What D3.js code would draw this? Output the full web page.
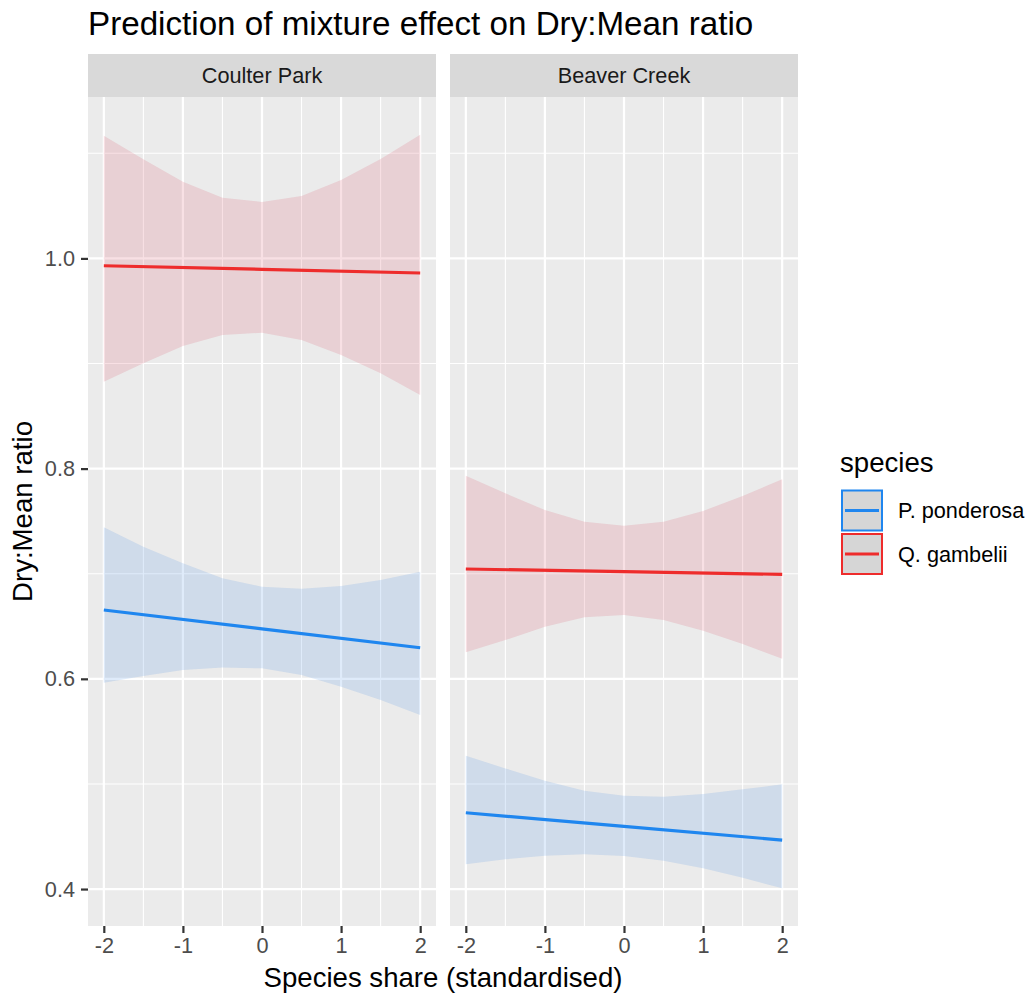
<!DOCTYPE html>
<html>
<head>
<meta charset="utf-8">
<script src="https://cdn.jsdelivr.net/npm/d3@7"></script>
<style>
  html, body { margin: 0; padding: 0; background: #ffffff; }
  svg { display: block; font-family: "Liberation Sans", Arial, Helvetica, sans-serif; }
</style>
</head>
<body>
<svg id="chart" width="1032" height="994"></svg>
<script>
// ---------------- data ----------------
const facets = ["Coulter Park", "Beaver Creek"];
const species = ["P. ponderosa", "Q. gambelii"];
const xGrid = [-2, -1.5, -1, -0.5, 0, 0.5, 1, 1.5, 2];
const fitX = [-2, 0, 2];
const xTicks = [-2, -1, 0, 1, 2];
const yTicks = [0.4, 0.6, 0.8, 1.0];

// Coulter Park
const cpPondFit   = [0.6655, 0.6476, 0.6296];
const cpPondUpper = [0.7441, 0.7257, 0.7099, 0.6956, 0.6876, 0.6857, 0.6883, 0.6940, 0.7019];
const cpPondLower = [0.5963, 0.6027, 0.6084, 0.6109, 0.6100, 0.6036, 0.5925, 0.5798, 0.5656];
const cpGambFit   = [0.9930, 0.9896, 0.9861];
const cpGambUpper = [1.1167, 1.0943, 1.0730, 1.0578, 1.0537, 1.0594, 1.0746, 1.0946, 1.1177];
const cpGambLower = [0.8827, 0.9002, 0.9167, 0.9271, 0.9293, 0.9224, 0.9081, 0.8907, 0.8700];
// Beaver Creek
const bcPondFit   = [0.4726, 0.4596, 0.4466];
const bcPondUpper = [0.5268, 0.5148, 0.5030, 0.4935, 0.4888, 0.4878, 0.4904, 0.4949, 0.4996];
const bcPondLower = [0.4235, 0.4283, 0.4317, 0.4330, 0.4314, 0.4269, 0.4197, 0.4108, 0.4007];
const bcGambFit   = [0.7045, 0.7020, 0.6994];
const bcGambUpper = [0.7932, 0.7765, 0.7606, 0.7495, 0.7457, 0.7495, 0.7597, 0.7739, 0.7898];
const bcGambLower = [0.6252, 0.6369, 0.6496, 0.6585, 0.6607, 0.6559, 0.6458, 0.6331, 0.6191];

// ---------------- styles ----------------
const lineColor = { "P. ponderosa": "#1f86ef", "Q. gambelii": "#ee2c2c" };
const ribbonColor = { "P. ponderosa": "rgb(95,155,230)", "Q. gambelii": "rgb(220,100,120)" };
const ribbonOpacity = 0.2;

const panelData = [
  { facet: facets[0], series: [
    { sp: species[0], fit: cpPondFit, upper: cpPondUpper, lower: cpPondLower },
    { sp: species[1], fit: cpGambFit, upper: cpGambUpper, lower: cpGambLower } ] },
  { facet: facets[1], series: [
    { sp: species[0], fit: bcPondFit, upper: bcPondUpper, lower: bcPondLower },
    { sp: species[1], fit: bcGambFit, upper: bcGambUpper, lower: bcGambLower } ] }
];

const svg = d3.select("#chart");
const panelTop = 97, panelBottom = 926;
const panelLefts = [88, 450];
const panelW = 348;
const stripH = 43;
const smallFont = 21.7;
const bigFont = 27.6;

// ggplot-like 5% expansion
const allY = panelData.flatMap(p => p.series.flatMap(s => s.upper.concat(s.lower, s.fit)));
const yMin = d3.min(allY), yMax = d3.max(allY);
const yPad = (yMax - yMin) * 0.05;
const y = d3.scaleLinear().domain([yMin - yPad, yMax + yPad]).range([panelBottom, panelTop]);

const yMinor = [0.5, 0.7, 0.9, 1.1];
const xMinor = [-1.5, -0.5, 0.5, 1.5];

panelData.forEach((pd, i) => {
  const left = panelLefts[i];
  const x = d3.scaleLinear().domain([-2.2, 2.2]).range([left, left + panelW]);
  const g = svg.append("g");

  // strip
  g.append("rect").attr("x", left).attr("y", panelTop - stripH).attr("width", panelW).attr("height", stripH)
    .attr("fill", "#d9d9d9");
  g.append("text").attr("x", left + panelW / 2).attr("y", panelTop - stripH / 2 + 7.5)
    .attr("text-anchor", "middle").attr("font-size", smallFont).attr("fill", "#1a1a1a").text(pd.facet);

  // panel bg
  g.append("rect").attr("x", left).attr("y", panelTop).attr("width", panelW).attr("height", panelBottom - panelTop)
    .attr("fill", "#ebebeb");

  // grid
  g.selectAll(".ymin").data(yMinor).enter().append("line")
    .attr("x1", left).attr("x2", left + panelW).attr("y1", d => y(d)).attr("y2", d => y(d))
    .attr("stroke", "#ffffff").attr("stroke-width", 1.1);
  g.selectAll(".xmin").data(xMinor).enter().append("line")
    .attr("y1", panelTop).attr("y2", panelBottom).attr("x1", d => x(d)).attr("x2", d => x(d))
    .attr("stroke", "#ffffff").attr("stroke-width", 1.1);
  g.selectAll(".ymaj").data(yTicks).enter().append("line")
    .attr("x1", left).attr("x2", left + panelW).attr("y1", d => y(d)).attr("y2", d => y(d))
    .attr("stroke", "#ffffff").attr("stroke-width", 2.2);
  g.selectAll(".xmaj").data(xTicks).enter().append("line")
    .attr("y1", panelTop).attr("y2", panelBottom).attr("x1", d => x(d)).attr("x2", d => x(d))
    .attr("stroke", "#ffffff").attr("stroke-width", 2.2);

  // ribbons
  const area = d3.area().x((d, k) => x(xGrid[k])).y0(d => y(d[0])).y1(d => y(d[1]));
  pd.series.forEach(s => {
    const pts = s.lower.map((lo, k) => [lo, s.upper[k]]);
    g.append("path").attr("d", area(pts)).attr("fill", ribbonColor[s.sp]).attr("fill-opacity", ribbonOpacity);
  });
  // lines
  const line = d3.line().x((d, k) => x(fitX[k])).y(d => y(d));
  pd.series.forEach(s => {
    g.append("path").attr("d", line(s.fit)).attr("fill", "none").attr("stroke", lineColor[s.sp])
      .attr("stroke-width", 3.2);
  });

  // x axis
  const xa = svg.append("g").attr("transform", `translate(0,${panelBottom})`)
    .call(d3.axisBottom(x).tickValues(xTicks).tickFormat(d3.format("d")).tickSize(7).tickPadding(5));
  xa.select(".domain").remove();
  xa.selectAll("line").attr("stroke", "#333333").attr("stroke-width", 2.2);
  xa.selectAll("text").attr("font-size", smallFont).attr("fill", "#4d4d4d")
    .attr("font-family", "Liberation Sans, Arial, sans-serif")
    .text(d => d < 0 ? "-" + Math.abs(d) : String(d));
});

// y axis
const ya = svg.append("g").attr("transform", `translate(${panelLefts[0]},0)`)
  .call(d3.axisLeft(y).tickValues(yTicks).tickFormat(d3.format(".1f")).tickSize(7).tickPadding(6));
ya.select(".domain").remove();
ya.selectAll("line").attr("stroke", "#333333").attr("stroke-width", 2.2);
ya.selectAll("text").attr("font-size", smallFont).attr("fill", "#4d4d4d")
  .attr("font-family", "Liberation Sans, Arial, sans-serif");

// titles
svg.append("text").attr("x", 88).attr("y", 35).attr("font-size", 33.2).attr("fill", "#000").text("Prediction of mixture effect on Dry:Mean ratio");
svg.append("text").attr("x", (panelLefts[0] + panelLefts[1] + panelW) / 2).attr("y", 987).attr("text-anchor", "middle")
  .attr("font-size", bigFont).attr("fill", "#000").text("Species share (standardised)");
svg.append("text").attr("transform", `translate(32,${(panelTop + panelBottom) / 2}) rotate(-90)`)
  .attr("text-anchor", "middle").attr("font-size", bigFont).attr("fill", "#000").text("Dry:Mean ratio");

// legend
const lg = svg.append("g");
lg.append("text").attr("x", 840).attr("y", 472).attr("font-size", bigFont).attr("fill", "#000").text("species");
species.forEach((sp, i) => {
  const top = 489.5 + i * 43.5;
  lg.append("rect").attr("x", 842).attr("y", top + 1).attr("width", 40).attr("height", 40)
    .attr("fill", "#d6d6d6").attr("stroke", lineColor[sp]).attr("stroke-width", 2);
  lg.append("line").attr("x1", 845).attr("x2", 879).attr("y1", top + 21).attr("y2", top + 21)
    .attr("stroke", lineColor[sp]).attr("stroke-width", 3.2);
  lg.append("text").attr("x", 898).attr("y", top + 21 + 7.7).attr("font-size", smallFont).attr("fill", "#000").text(sp);
});
</script>
</body>
</html>
